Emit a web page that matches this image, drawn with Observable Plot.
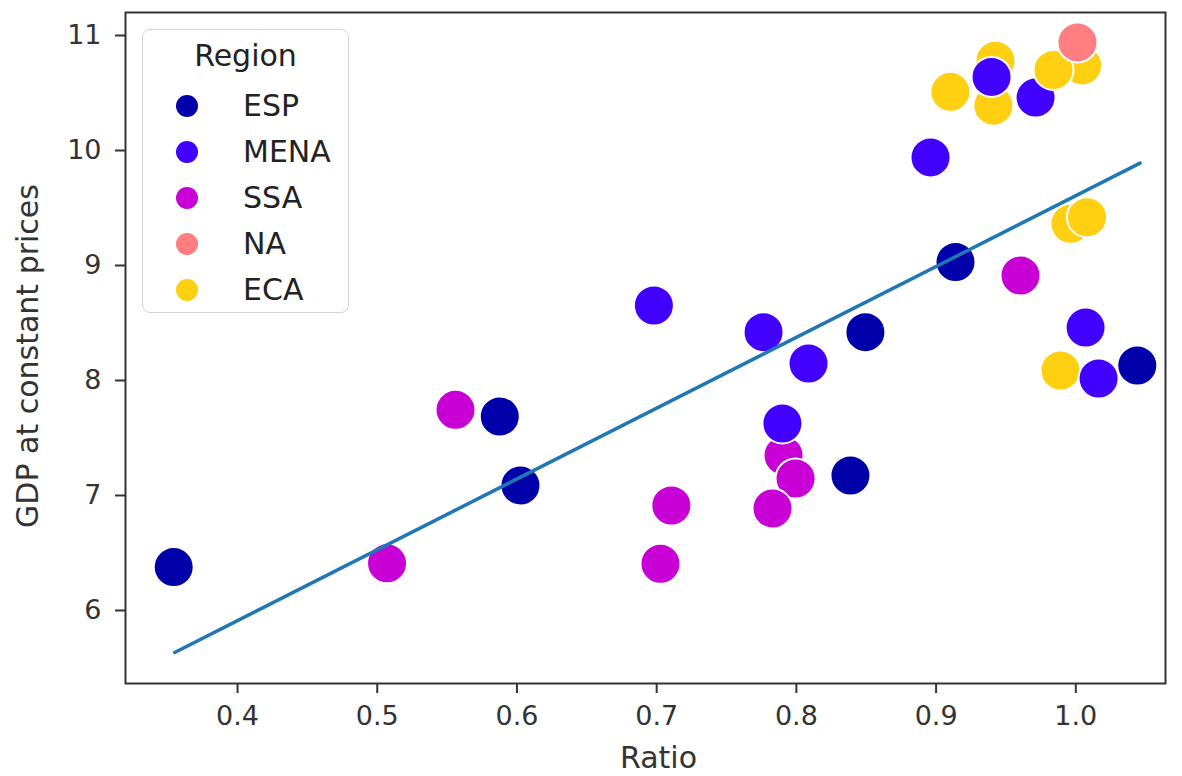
<!DOCTYPE html>
<html>
<head>
<meta charset="utf-8">
<script src="https://cdn.jsdelivr.net/npm/d3@7"></script>
<script src="https://cdn.jsdelivr.net/npm/@observablehq/plot@0.6"></script>
<style>
  body { margin: 0; background: #fff; font-family: "DejaVu Sans", sans-serif; }
  #wrap { position: relative; width: 1182px; height: 776px; }
  #legend { position: absolute; left: 142px; top: 29px; width: 207px; height: 284px;
    border: 1.5px solid #d4d4d4; border-radius: 8px; background: rgba(255,255,255,0.85);
    box-sizing: border-box; font-family: "DejaVu Sans", sans-serif; color: #222; }
  #legend .title { position: absolute; left: 0; width: 100%; top: 8px; text-align: center; font-size: 30px; }
  #legend .item { position: absolute; left: 0; height: 40px; width: 100%; }
  #legend .sw { position: absolute; left: 33px; top: 9px; width: 22px; height: 22px; border-radius: 50%; }
  #legend .lb { position: absolute; left: 100px; top: 1px; font-size: 30px; line-height: 38px; }
</style>
</head>
<body>
<div id="wrap"><div id="chart"></div><div id="legend"></div></div>
<script>
const regions = ["ESP", "MENA", "SSA", "NA", "ECA"];
const regionColors = ["#0000aa", "#4200ff", "#c800d6", "#ff7e81", "#ffcf12"];

const pointRegion = ["ECA","ECA","ECA","MENA","MENA","ECA","NA","ECA","MENA","ECA","ECA","ESP","SSA","MENA","ECA","MENA","ESP","MENA","ESP","MENA","SSA","SSA","SSA","MENA","ESP","MENA","SSA","SSA","ESP","SSA","SSA","ESP","ESP"];
const pointRatio = [0.9425,1.0045,0.941,0.9712,0.9397,0.984,1.0012,0.9102,0.896,0.9962,1.008,0.9139,0.9604,1.007,0.989,1.0163,1.044,0.7765,0.8494,0.8087,0.7908,0.7994,0.7829,0.79,0.8387,0.698,0.7105,0.7027,0.3543,0.507,0.556,0.5877,0.6025];
const pointGdp = [10.78,10.74,10.39,10.46,10.64,10.70,10.94,10.51,9.94,9.363,9.42,9.03,8.913,8.46,8.087,8.017,8.13,8.42,8.42,8.148,7.348,7.148,6.887,7.626,7.174,8.652,6.913,6.406,6.377,6.41,7.745,7.687,7.087];

// fitted trend line at its two ends
const fitRatio = [0.355, 1.046];
const fitGdp = [5.635, 9.89];

const xTicks = [0.4, 0.5, 0.6, 0.7, 0.8, 0.9, 1.0];
const yTicks = [6, 7, 8, 9, 10, 11];
const xLabel = "Ratio";
const yLabel = "GDP at constant prices";
const legendTitle = "Region";

const data = pointRegion.map((r, i) => ({region: r, ratio: pointRatio[i], gdp: pointGdp[i]}));
const fit = fitRatio.map((x, i) => ({ratio: x, gdp: fitGdp[i]}));

const chart = Plot.plot({
  width: 1182,
  height: 776,
  marginLeft: 125,
  marginRight: 17,
  marginTop: 12,
  marginBottom: 93,
  style: {fontFamily: "DejaVu Sans, sans-serif", background: "#fff"},
  x: {domain: [0.3198, 1.0642]},
  y: {domain: [5.365, 11.2]},
  color: {domain: regions, range: regionColors},
  marks: [
    Plot.dot(data, {x: "ratio", y: "gdp", fill: "region", r: 20, stroke: "white", strokeWidth: 2}),
    Plot.line(fit, {x: "ratio", y: "gdp", stroke: "#1f77b4", strokeWidth: 3.5}),
    Plot.frame({stroke: "#333", strokeWidth: 2}),
    Plot.axisX({ticks: xTicks, tickFormat: d3.format(".1f"), tickSize: 10, tickPadding: 12, fontSize: 27, label: null, color: "#333", strokeWidth: 2}),
    Plot.axisY({ticks: yTicks, tickFormat: d3.format("d"), tickSize: 10, tickPadding: 14, fontSize: 27, label: null, color: "#333", strokeWidth: 2}),
    Plot.text([xLabel], {frameAnchor: "bottom", textAnchor: "middle", dx: 13, dy: 84, fontSize: 30, fill: "#333"}),
    Plot.text([yLabel], {frameAnchor: "left", textAnchor: "middle", dx: -97, dy: 8, rotate: -90, fontSize: 30, fill: "#333"})
  ]
});
document.getElementById("chart").appendChild(chart);

const legend = document.getElementById("legend");
const t = document.createElement("div");
t.className = "title";
t.textContent = legendTitle;
legend.appendChild(t);
regions.forEach((r, i) => {
  const it = document.createElement("div");
  it.className = "item";
  it.style.top = (56 + i * 46) + "px";
  const sw = document.createElement("div");
  sw.className = "sw";
  sw.style.background = regionColors[i];
  const lb = document.createElement("div");
  lb.className = "lb";
  lb.textContent = r;
  it.appendChild(sw);
  it.appendChild(lb);
  legend.appendChild(it);
});
</script>
</body>
</html>
